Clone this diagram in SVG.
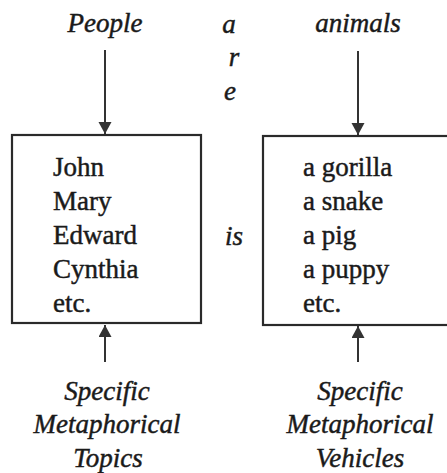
<svg xmlns="http://www.w3.org/2000/svg" width="447" height="473" viewBox="0 0 447 473">
  <style>
    text { font-family: "Liberation Serif", "Times New Roman", serif; font-size: 27px; fill: #1a1a1a; stroke: #1a1a1a; stroke-width: 0.45; }
    .label { font-style: italic; text-anchor: middle; }
    .box { fill: #fff; stroke: #2a2a2a; stroke-width: 2.2; }
    .conn { stroke: #333; stroke-width: 2; fill: none; marker-end: url(#head); }
  </style>
  <defs>
    <marker id="head" markerUnits="userSpaceOnUse" markerWidth="14" markerHeight="14" refX="12" refY="6.5" orient="auto">
      <path d="M0,0 L12,6.5 L0,13 Z" fill="#333"/>
    </marker>
  </defs>
  <rect width="447" height="473" fill="#fff"/>

  <g id="connectors">
    <line class="conn" x1="105" y1="50" x2="105" y2="134"/>
    <line class="conn" x1="358" y1="51" x2="358" y2="135"/>
    <line class="conn" x1="105" y1="362" x2="105" y2="325"/>
    <line class="conn" x1="358" y1="362" x2="358" y2="326"/>
  </g>

  <g id="people">
    <text class="label" x="105" y="32">People</text>
  </g>
  <g id="animals">
    <text class="label" x="358" y="32">animals</text>
  </g>
  <g id="are">
    <text class="label" x="229" y="33">a</text>
    <text class="label" x="234" y="66">r</text>
    <text class="label" x="230" y="100">e</text>
  </g>
  <g id="is">
    <text class="label" x="234" y="245">is</text>
  </g>

  <g id="topics-box">
    <rect class="box" x="12" y="135" width="189" height="188"/>
    <text x="53" y="176">John</text>
    <text x="53" y="210">Mary</text>
    <text x="53" y="244">Edward</text>
    <text x="53" y="278">Cynthia</text>
    <text x="53" y="312">etc.</text>
  </g>

  <g id="vehicles-box">
    <rect class="box" x="263" y="136" width="194" height="189"/>
    <text x="303" y="176">a gorilla</text>
    <text x="303" y="210">a snake</text>
    <text x="303" y="244">a pig</text>
    <text x="303" y="278">a puppy</text>
    <text x="303" y="312">etc.</text>
  </g>

  <g id="specific-topics">
    <text class="label" x="107" y="400">Specific</text>
    <text class="label" x="107" y="433">Metaphorical</text>
    <text class="label" x="108" y="467">Topics</text>
  </g>
  <g id="specific-vehicles">
    <text class="label" x="360" y="400">Specific</text>
    <text class="label" x="360" y="433">Metaphorical</text>
    <text class="label" x="360" y="467">Vehicles</text>
  </g>
</svg>
